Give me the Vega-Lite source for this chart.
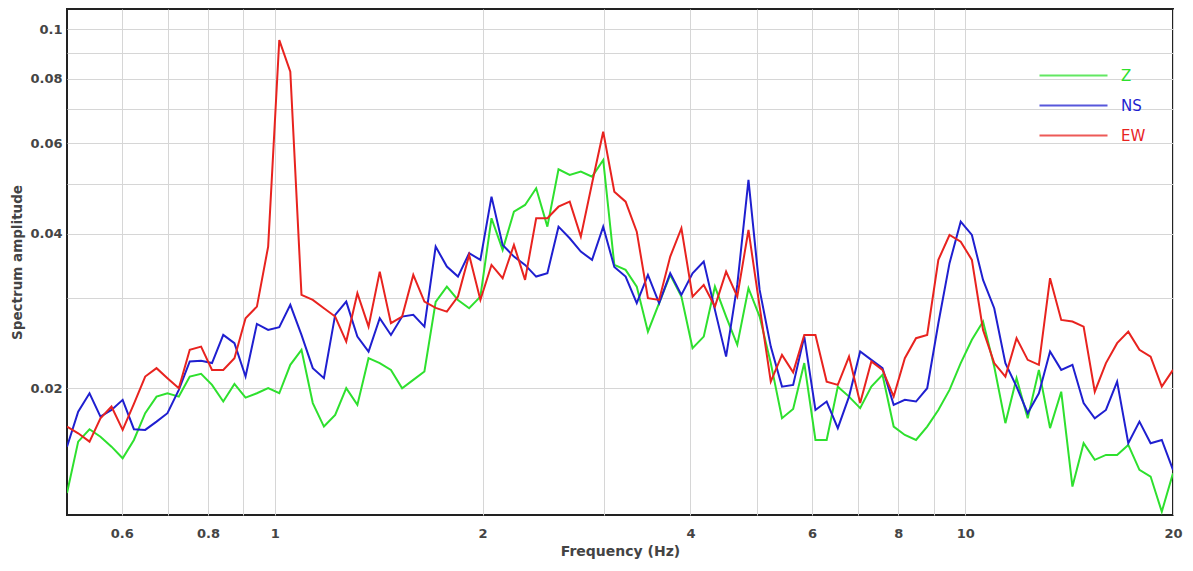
{
  "$schema": "https://vega.github.io/schema/vega-lite/v6.json",
  "autosize": {"type": "none"},
  "width": 1106,
  "height": 506,
  "padding": {"left": 67, "top": 9, "right": 20, "bottom": 56},
  "background": "white",
  "config": {"view": {"stroke": "#222222", "strokeWidth": 2}, "font": "DejaVu Sans"},
  "data": {"values": [
    {"f":0.5,"Z":0.0125,"NS":0.01539,"EW":0.01684},
    {"f":0.519,"Z":0.01574,"NS":0.018,"EW":0.01634},
    {"f":0.539,"Z":0.01664,"NS":0.01955,"EW":0.01574},
    {"f":0.559,"Z":0.01609,"NS":0.01761,"EW":0.01748},
    {"f":0.58,"Z":0.01539,"NS":0.01814,"EW":0.01842},
    {"f":0.602,"Z":0.01461,"NS":0.01898,"EW":0.01659},
    {"f":0.625,"Z":0.01586,"NS":0.01664,"EW":0.01865},
    {"f":0.649,"Z":0.01788,"NS":0.01659,"EW":0.02107},
    {"f":0.674,"Z":0.01926,"NS":0.01722,"EW":0.02188},
    {"f":0.699,"Z":0.01955,"NS":0.01788,"EW":0.02092},
    {"f":0.726,"Z":0.01926,"NS":0.01985,"EW":0.02},
    {"f":0.753,"Z":0.02107,"NS":0.02254,"EW":0.02375},
    {"f":0.782,"Z":0.02133,"NS":0.02261,"EW":0.0241},
    {"f":0.811,"Z":0.0203,"NS":0.02238,"EW":0.02171},
    {"f":0.842,"Z":0.01884,"NS":0.02539,"EW":0.02171},
    {"f":0.874,"Z":0.02039,"NS":0.02447,"EW":0.02288},
    {"f":0.907,"Z":0.01917,"NS":0.02107,"EW":0.02737},
    {"f":0.942,"Z":0.01955,"NS":0.02668,"EW":0.02883},
    {"f":0.978,"Z":0.02,"NS":0.02597,"EW":0.03772},
    {"f":1.015,"Z":0.01955,"NS":0.02629,"EW":0.09518},
    {"f":1.053,"Z":0.02221,"NS":0.02905,"EW":0.08259},
    {"f":1.093,"Z":0.02375,"NS":0.02539,"EW":0.03038},
    {"f":1.135,"Z":0.01871,"NS":0.02188,"EW":0.0297},
    {"f":1.178,"Z":0.01684,"NS":0.02092,"EW":0.02862},
    {"f":1.223,"Z":0.01774,"NS":0.02778,"EW":0.02757},
    {"f":1.269,"Z":0.02,"NS":0.02948,"EW":0.02465},
    {"f":1.317,"Z":0.01856,"NS":0.0252,"EW":0.03061},
    {"f":1.367,"Z":0.02288,"NS":0.02357,"EW":0.02636},
    {"f":1.419,"Z":0.02238,"NS":0.02737,"EW":0.03372},
    {"f":1.473,"Z":0.02171,"NS":0.02539,"EW":0.02676},
    {"f":1.529,"Z":0.02,"NS":0.02757,"EW":0.02757},
    {"f":1.587,"Z":0.02076,"NS":0.02778,"EW":0.03323},
    {"f":1.647,"Z":0.02155,"NS":0.02636,"EW":0.02948},
    {"f":1.71,"Z":0.02944,"NS":0.03772,"EW":0.02866},
    {"f":1.775,"Z":0.03153,"NS":0.03449,"EW":0.02819},
    {"f":1.842,"Z":0.0297,"NS":0.03298,"EW":0.03015},
    {"f":1.912,"Z":0.02862,"NS":0.03662,"EW":0.03634},
    {"f":1.985,"Z":0.03015,"NS":0.03554,"EW":0.0297},
    {"f":2.06,"Z":0.04283,"NS":0.04719,"EW":0.03475},
    {"f":2.138,"Z":0.03717,"NS":0.03801,"EW":0.03274},
    {"f":2.22,"Z":0.04411,"NS":0.03607,"EW":0.03801},
    {"f":2.304,"Z":0.04546,"NS":0.03475,"EW":0.03249},
    {"f":2.391,"Z":0.04899,"NS":0.03298,"EW":0.04283},
    {"f":2.482,"Z":0.04125,"NS":0.03348,"EW":0.04283},
    {"f":2.576,"Z":0.05335,"NS":0.04125,"EW":0.04511},
    {"f":2.674,"Z":0.052,"NS":0.03916,"EW":0.04613},
    {"f":2.775,"Z":0.05278,"NS":0.03688,"EW":0.03944},
    {"f":2.881,"Z":0.05161,"NS":0.03554,"EW":0.0501},
    {"f":2.99,"Z":0.05561,"NS":0.04125,"EW":0.06313},
    {"f":3.103,"Z":0.03475,"NS":0.03444,"EW":0.04826},
    {"f":3.222,"Z":0.03398,"NS":0.03298,"EW":0.04613},
    {"f":3.344,"Z":0.03153,"NS":0.02927,"EW":0.04033},
    {"f":3.471,"Z":0.02577,"NS":0.03323,"EW":0.02993},
    {"f":3.603,"Z":0.02927,"NS":0.02927,"EW":0.0297},
    {"f":3.739,"Z":0.03323,"NS":0.03348,"EW":0.03607},
    {"f":3.881,"Z":0.03015,"NS":0.03038,"EW":0.04096},
    {"f":4.028,"Z":0.02393,"NS":0.03348,"EW":0.03015},
    {"f":4.181,"Z":0.0252,"NS":0.03527,"EW":0.03177},
    {"f":4.34,"Z":0.03153,"NS":0.02841,"EW":0.02883},
    {"f":4.505,"Z":0.02757,"NS":0.02304,"EW":0.03372},
    {"f":4.676,"Z":0.02429,"NS":0.03177,"EW":0.03015},
    {"f":4.854,"Z":0.0313,"NS":0.05085,"EW":0.04064},
    {"f":5.038,"Z":0.02757,"NS":0.03106,"EW":0.02883},
    {"f":5.229,"Z":0.02238,"NS":0.0241,"EW":0.0206},
    {"f":5.428,"Z":0.01748,"NS":0.02014,"EW":0.02322},
    {"f":5.634,"Z":0.01822,"NS":0.0203,"EW":0.02147},
    {"f":5.847,"Z":0.02238,"NS":0.0252,"EW":0.02539},
    {"f":6.069,"Z":0.01586,"NS":0.01814,"EW":0.02539},
    {"f":6.3,"Z":0.01586,"NS":0.01884,"EW":0.0206},
    {"f":6.539,"Z":0.02014,"NS":0.01672,"EW":0.0203},
    {"f":6.788,"Z":0.01926,"NS":0.01926,"EW":0.02304},
    {"f":7.045,"Z":0.01829,"NS":0.02357,"EW":0.01871},
    {"f":7.313,"Z":0.02014,"NS":0.02271,"EW":0.02254},
    {"f":7.59,"Z":0.02123,"NS":0.02188,"EW":0.02171},
    {"f":7.878,"Z":0.01684,"NS":0.01856,"EW":0.01926},
    {"f":8.177,"Z":0.01622,"NS":0.01898,"EW":0.02288},
    {"f":8.488,"Z":0.01586,"NS":0.01884,"EW":0.02502},
    {"f":8.81,"Z":0.01684,"NS":0.02,"EW":0.02539},
    {"f":9.144,"Z":0.01814,"NS":0.02676,"EW":0.03554},
    {"f":9.491,"Z":0.01985,"NS":0.03502,"EW":0.03974},
    {"f":9.852,"Z":0.02238,"NS":0.04219,"EW":0.03857},
    {"f":10.226,"Z":0.02484,"NS":0.03974,"EW":0.03554},
    {"f":10.614,"Z":0.02696,"NS":0.03249,"EW":0.02597},
    {"f":11.017,"Z":0.02204,"NS":0.02862,"EW":0.02238},
    {"f":11.435,"Z":0.0171,"NS":0.02238,"EW":0.02107},
    {"f":11.869,"Z":0.02092,"NS":0.02014,"EW":0.02502},
    {"f":12.319,"Z":0.01748,"NS":0.01788,"EW":0.02271},
    {"f":12.787,"Z":0.02171,"NS":0.01955,"EW":0.02221},
    {"f":13.272,"Z":0.01672,"NS":0.02357,"EW":0.03274},
    {"f":13.776,"Z":0.01969,"NS":0.02171,"EW":0.02716},
    {"f":14.301,"Z":0.01287,"NS":0.02221,"EW":0.02696},
    {"f":14.844,"Z":0.01563,"NS":0.01871,"EW":0.02636},
    {"f":15.407,"Z":0.01451,"NS":0.01748,"EW":0.01969},
    {"f":15.992,"Z":0.01483,"NS":0.01814,"EW":0.02238},
    {"f":16.599,"Z":0.01483,"NS":0.0206,"EW":0.02447},
    {"f":17.229,"Z":0.01551,"NS":0.01563,"EW":0.02577},
    {"f":17.882,"Z":0.01387,"NS":0.01722,"EW":0.02375},
    {"f":18.561,"Z":0.01346,"NS":0.01563,"EW":0.02304},
    {"f":19.266,"Z":0.0115,"NS":0.01586,"EW":0.02014},
    {"f":20.0,"Z":0.01366,"NS":0.01387,"EW":0.02171}
  ]},
  "transform": [{"fold": ["Z", "NS", "EW"], "as": ["series", "amp"]}],
  "mark": {"type": "line", "strokeWidth": 2, "clip": true},
  "encoding": {
    "x": {
      "field": "f", "type": "quantitative",
      "scale": {"type": "log", "domain": [0.5, 20], "nice": false},
      "axis": {
        "title": "Frequency (Hz)",
        "values": [0.6, 0.7, 0.8, 0.9, 1, 2, 3, 4, 5, 6, 7, 8, 9, 10, 20],
        "format": "~g",
        "labelExpr": "indexof([0.7, 0.9, 3, 5, 7, 9], datum.value) >= 0 ? '' : datum.label",
        "grid": true, "gridColor": "#d6d6d6", "gridWidth": 1,
        "domain": false, "ticks": false,
        "labelFont": "DejaVu Sans", "labelFontSize": 13, "labelFontWeight": "bold", "labelColor": "#444444",
        "labelPadding": 12, "labelFlush": false, "labelOverlap": false,
        "titleFont": "DejaVu Sans", "titleFontSize": 14, "titleFontWeight": "bold", "titleColor": "#444444",
        "titlePadding": 4
      }
    },
    "y": {
      "field": "amp", "type": "quantitative",
      "scale": {"type": "log", "domain": [0.01133, 0.1094], "nice": false},
      "axis": {
        "title": "Spectrum amplitude",
        "values": [0.02, 0.03, 0.04, 0.05, 0.06, 0.07, 0.08, 0.09, 0.1],
        "format": "~g",
        "labelExpr": "indexof([0.03, 0.05, 0.07, 0.09], datum.value) >= 0 ? '' : datum.label",
        "grid": true, "gridColor": "#d6d6d6", "gridWidth": 1,
        "domain": false, "ticks": false,
        "labelFont": "DejaVu Sans", "labelFontSize": 13, "labelFontWeight": "bold", "labelColor": "#444444",
        "labelPadding": 5, "labelOverlap": false,
        "titleFont": "DejaVu Sans", "titleFontSize": 13.5, "titleFontWeight": "bold", "titleColor": "#444444",
        "titlePadding": 5
      }
    },
    "color": {
      "field": "series", "type": "nominal",
      "scale": {"domain": ["Z", "NS", "EW"], "range": ["#2EE02E", "#1F1FD0", "#E8231F"]},
      "legend": {
        "title": null, "orient": "none", "legendX": 994, "legendY": 54,
        "symbolType": "M-3,0H3", "symbolSize": 514, "symbolStrokeWidth": 2, "symbolFillColor": "transparent",
        "symbolOpacity": 0.75,
        "labelFont": "DejaVu Sans", "labelFontSize": 15, "labelOffset": 35, "rowPadding": 9,
        "encode": {"labels": {"update": {"fill": {"scale": "color", "field": "value"}}}}
      }
    }
  }
}
